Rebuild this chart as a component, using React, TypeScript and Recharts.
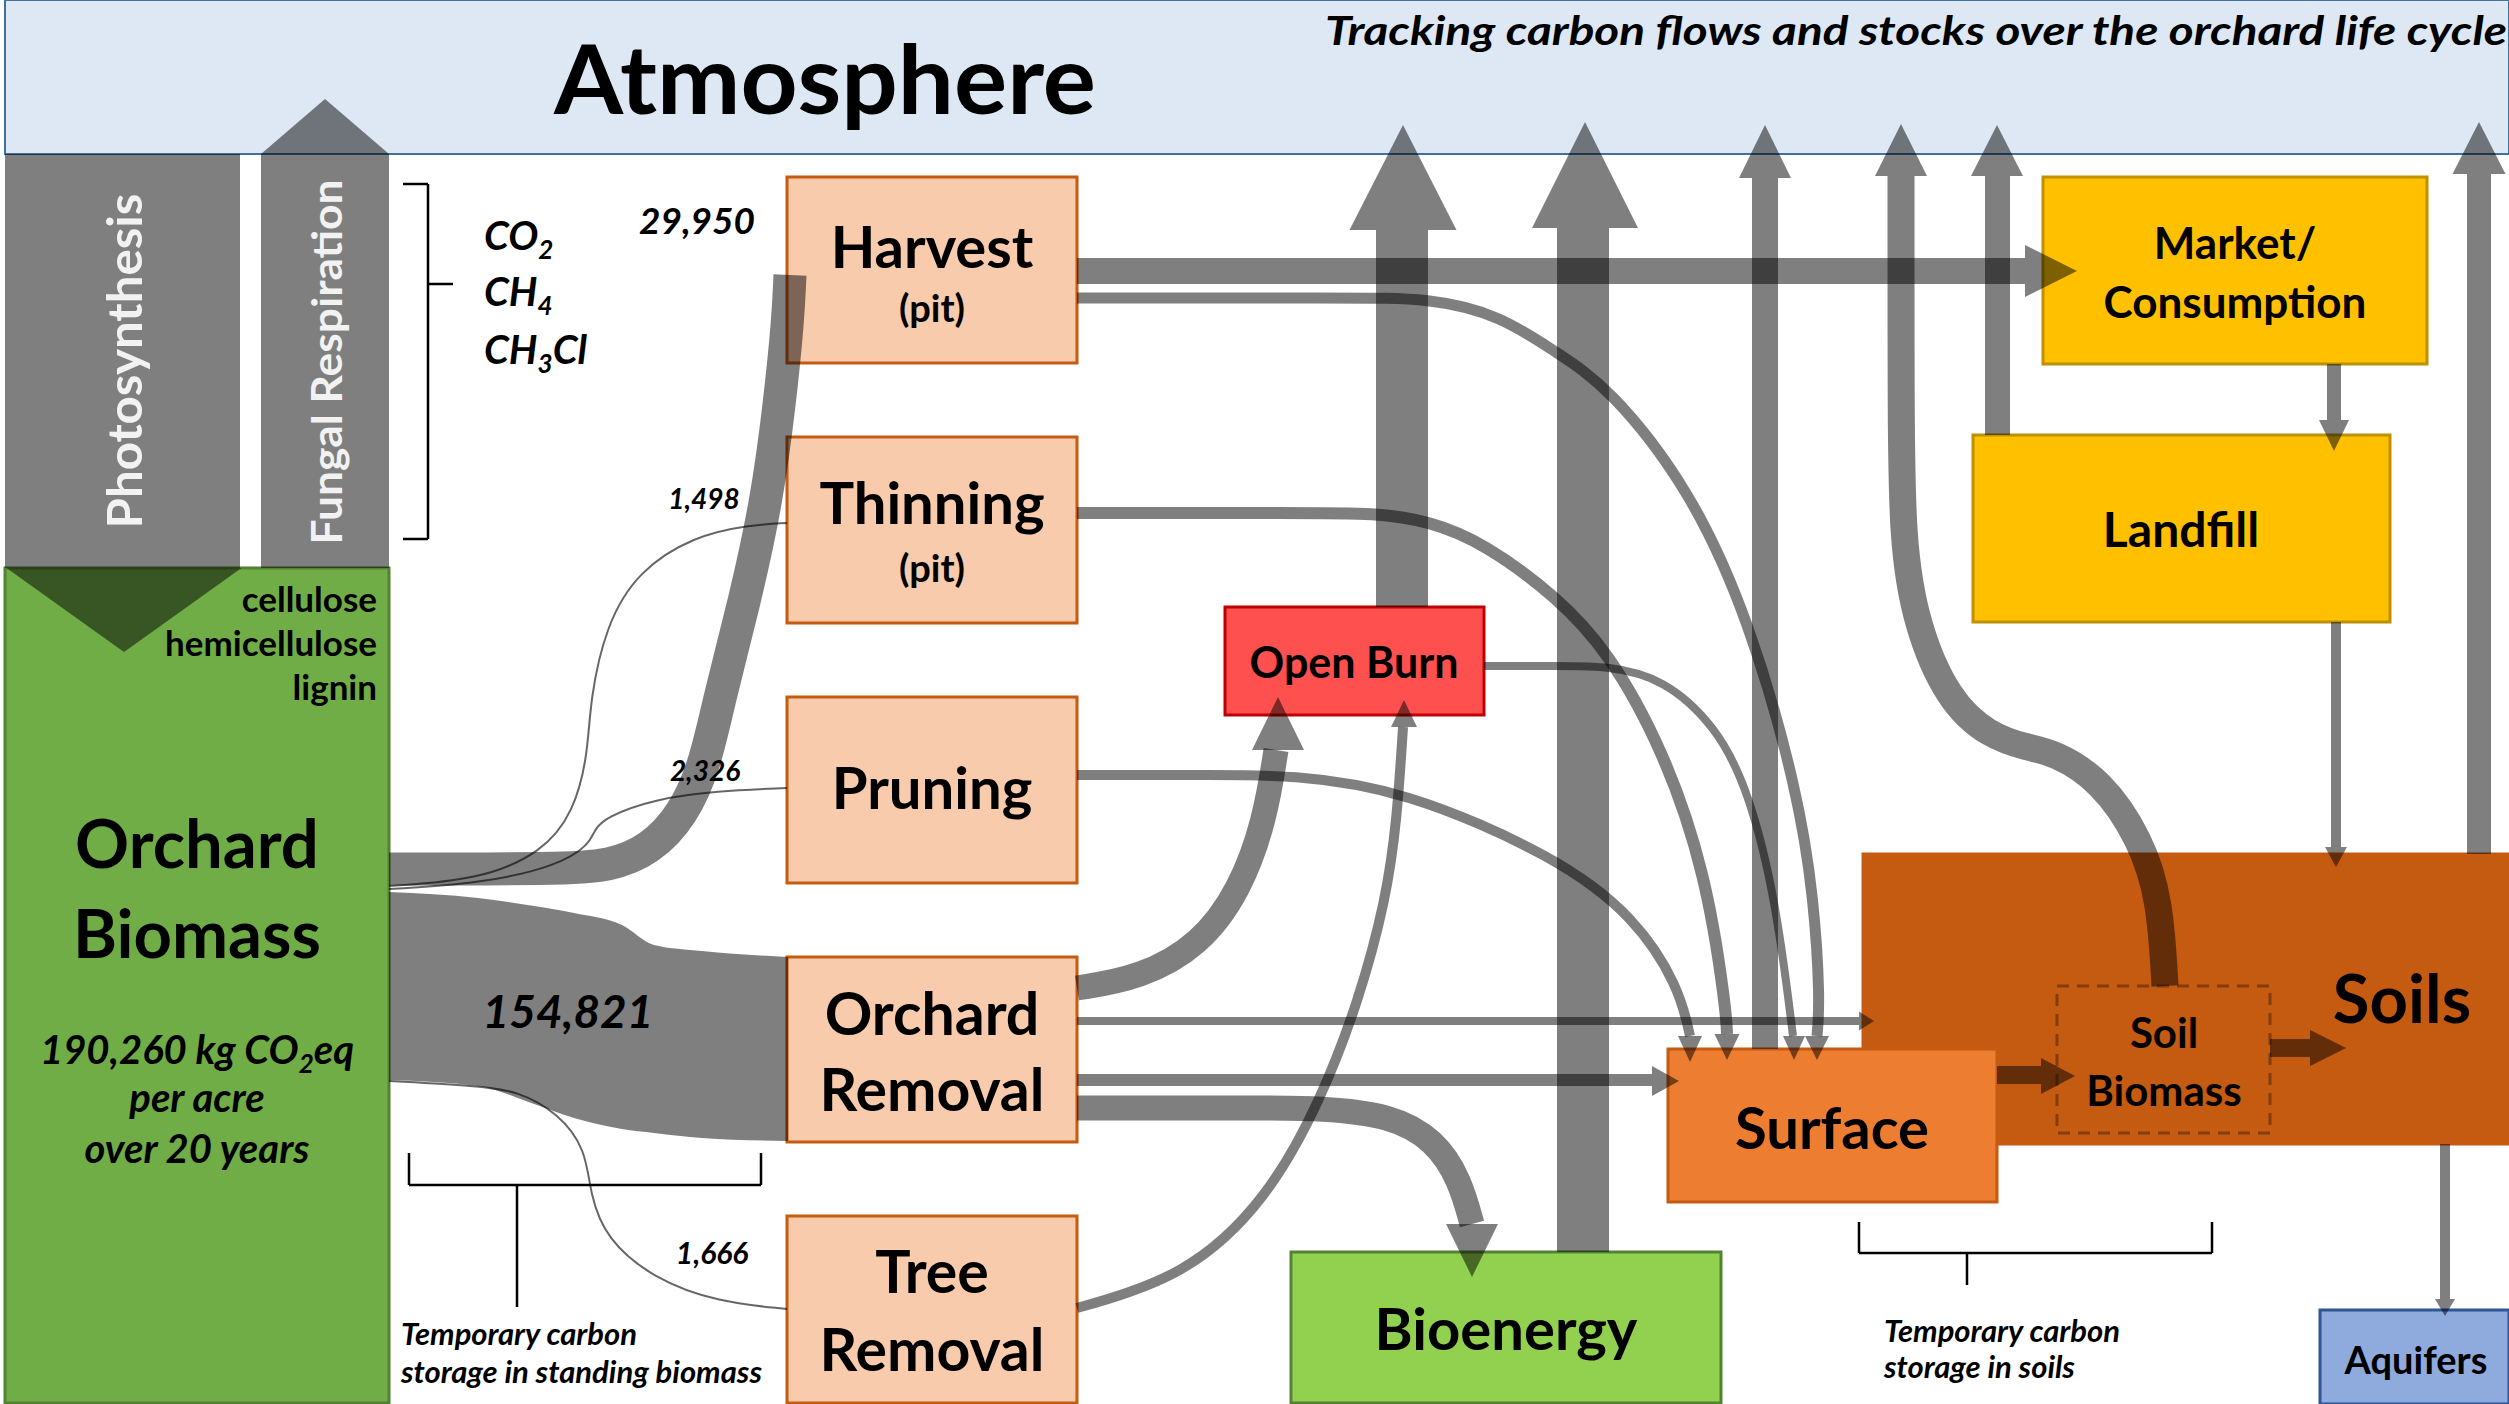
import { ComposedChart, XAxis, YAxis, Line, Area, Scatter, ReferenceArea, ReferenceLine } from 'recharts'

const W = 2509
const H = 1404
const SANS = 'Lato, "Open Sans", "Noto Sans", sans-serif'
const INK = '#000'
const FLOW_OPACITY = 0.5

// carbon stocks (boxes), drawn in the diagram's own x/y units
const stocks = [
  { id: 'Atmosphere', x1: 5, x2: 2509, y1: 0, y2: 154, fill: '#dde8f4', stroke: '#41719c' },
  { id: 'Orchard Biomass', x1: 5, x2: 389, y1: 568, y2: 1403, fill: '#70ad47', stroke: '#548235' },
  { id: 'Harvest', x1: 787, x2: 1077, y1: 177, y2: 363, fill: '#f8cbad', stroke: '#c55a11' },
  { id: 'Thinning', x1: 787, x2: 1077, y1: 437, y2: 623, fill: '#f8cbad', stroke: '#c55a11' },
  { id: 'Pruning', x1: 787, x2: 1077, y1: 697, y2: 883, fill: '#f8cbad', stroke: '#c55a11' },
  { id: 'Orchard Removal', x1: 787, x2: 1077, y1: 957, y2: 1142, fill: '#f8cbad', stroke: '#c55a11' },
  { id: 'Tree Removal', x1: 787, x2: 1077, y1: 1216, y2: 1403, fill: '#f8cbad', stroke: '#c55a11' },
  { id: 'Open Burn', x1: 1225, x2: 1484, y1: 607, y2: 715, fill: '#ff5050', stroke: '#c00000' },
  { id: 'Market', x1: 2043, x2: 2427, y1: 177, y2: 364, fill: '#ffc000', stroke: '#bf9000' },
  { id: 'Landfill', x1: 1973, x2: 2390, y1: 435, y2: 622, fill: '#ffc000', stroke: '#bf9000' },
  { id: 'Soils', x1: 1863, x2: 2509, y1: 854, y2: 1144, fill: '#c55a11', stroke: '#c55a11' },
  { id: 'Surface', x1: 1668, x2: 1997, y1: 1049, y2: 1202, fill: '#ed7d31', stroke: '#c55a11' },
  { id: 'Bioenergy', x1: 1291, x2: 1721, y1: 1252, y2: 1403, fill: '#92d050', stroke: '#548235' },
  { id: 'Aquifers', x1: 2320, x2: 2509, y1: 1310, y2: 1404, fill: '#8faadc', stroke: '#2f5597' },
]

const soilBiomass = { x1: 2057, x2: 2270, y1: 986, y2: 1133 }

// straight flow shafts: [x1, x2, y1, y2]
const straightFlows = [
  [5, 240, 154, 568], // photosynthesis
  [261, 389, 154, 568], // fungal respiration
  [1077, 2025, 258, 284], // harvest -> market
  [1376, 1428, 230, 607], // open burn -> atmosphere
  [1557, 1609, 228, 1252], // bioenergy -> atmosphere
  [1752, 1778, 178, 1049], // surface -> atmosphere
  [1985, 2010, 176, 435], // landfill -> atmosphere
  [2467, 2491, 174, 854], // soils -> atmosphere
  [2327, 2341, 364, 420], // market -> landfill
  [2331, 2341, 622, 847], // landfill -> soils
  [1077, 1859, 1017, 1025], // orchard removal -> soils
  [1077, 1652, 1074, 1086], // orchard removal -> surface
  [1997, 2041, 1066, 1084], // surface -> soil biomass
  [2270, 2310, 1039, 1057], // soil biomass -> soils
  [2440, 2450, 1144, 1299], // soils -> aquifers
]

// curved flows
const curvedFlows = [
  { id: 'biomass-harvest', w: 33, pts: [[389, 869], [560, 869], [610, 866], [650, 850], [683, 815], [705, 765], [719, 700], [745, 600], [767, 500], [780, 400], [788, 320], [790, 275]] },
  { id: 'biomass-thinning', w: 2, pts: [[389, 886], [478, 880], [542, 853], [574, 812], [588, 754], [590, 700], [606, 625], [638, 571], [694, 536], [749, 525], [787, 523]] },
  { id: 'biomass-pruning', w: 2, pts: [[389, 889], [478, 884], [558, 866], [590, 844], [594, 830], [606, 817], [654, 799], [717, 791], [787, 788]] },
  { id: 'biomass-tree', w: 2, pts: [[389, 1081], [478, 1086], [518, 1091], [558, 1113], [586, 1149], [590, 1194], [606, 1239], [654, 1279], [717, 1302], [787, 1309]] },
  { id: 'harvest-surface', w: 11, pts: [[1077, 298], [1350, 298], [1429, 298], [1500, 315], [1557, 353], [1608, 386], [1690, 489], [1749, 619], [1798, 792], [1814, 900], [1820, 1000], [1817, 1036]] },
  { id: 'thinning-surface', w: 12, pts: [[1077, 513], [1300, 513], [1375, 513], [1429, 521], [1484, 543], [1557, 597], [1608, 651], [1663, 749], [1706, 873], [1726, 1009], [1727, 1034]] },
  { id: 'pruning-surface', w: 10, pts: [[1077, 775], [1220, 775], [1289, 775], [1402, 789], [1557, 857], [1635, 917], [1679, 987], [1690, 1036]] },
  { id: 'burn-surface', w: 8, pts: [[1484, 666], [1560, 666], [1608, 666], [1663, 678], [1717, 727], [1749, 792], [1776, 900], [1793, 1036]] },
  { id: 'removal-burn', w: 25, pts: [[1077, 988], [1140, 978], [1200, 945], [1240, 890], [1265, 820], [1276, 750]] },
  { id: 'tree-burn', w: 10, pts: [[1077, 1308], [1185, 1277], [1267, 1200], [1321, 1100], [1359, 1000], [1386, 900], [1397, 820], [1403, 727]] },
  { id: 'removal-bioenergy', w: 25, pts: [[1077, 1108], [1260, 1108], [1321, 1108], [1390, 1115], [1435, 1140], [1460, 1180], [1472, 1224]] },
  { id: 'soil-atmosphere', w: 27, pts: [[2165, 986], [2160, 900], [2141, 840], [2101, 780], [2053, 752], [2029, 748], [1989, 736], [1948, 700], [1916, 625], [1902, 540], [1901, 400], [1901, 176]] },
]

// orchard removal band (154,821): [top, bottom] along x
const removalBand = [
  { x: 389, band: [892, 1080] },
  { x: 478, band: [898, 1086] },
  { x: 534, band: [906, 1104] },
  { x: 574, band: [913, 1118] },
  { x: 622, band: [925, 1129] },
  { x: 654, band: [945, 1133] },
  { x: 702, band: [951, 1138] },
  { x: 788, band: [957, 1141] },
]

// arrow heads: tip position, direction, base width, length
const heads = [
  { x: 124, y: 652, dir: 'down', w: 235, h: 84 },
  { x: 325, y: 99, dir: 'up', w: 128, h: 55 },
  { x: 2077, y: 271, dir: 'right', w: 52, h: 52 },
  { x: 1403, y: 125, dir: 'up', w: 107, h: 105 },
  { x: 1585, y: 122, dir: 'up', w: 106, h: 106 },
  { x: 1765, y: 125, dir: 'up', w: 52, h: 53 },
  { x: 1901, y: 124, dir: 'up', w: 52, h: 52 },
  { x: 1997, y: 125, dir: 'up', w: 52, h: 51 },
  { x: 2479, y: 122, dir: 'up', w: 53, h: 52 },
  { x: 2334, y: 451, dir: 'down', w: 30, h: 31 },
  { x: 2336, y: 867, dir: 'down', w: 22, h: 20 },
  { x: 1874, y: 1021, dir: 'right', w: 19, h: 15 },
  { x: 1679, y: 1081, dir: 'right', w: 30, h: 27 },
  { x: 2075, y: 1076, dir: 'right', w: 36, h: 34 },
  { x: 2346, y: 1048, dir: 'right', w: 36, h: 36 },
  { x: 2445, y: 1316, dir: 'down', w: 20, h: 17 },
  { x: 1690, y: 1062, dir: 'down', w: 24, h: 26 },
  { x: 1727, y: 1060, dir: 'down', w: 25, h: 26 },
  { x: 1794, y: 1060, dir: 'down', w: 22, h: 24 },
  { x: 1817, y: 1060, dir: 'down', w: 24, h: 24 },
  { x: 1278, y: 697, dir: 'up', w: 52, h: 53 },
  { x: 1404, y: 700, dir: 'up', w: 26, h: 27 },
  { x: 1472, y: 1277, dir: 'down', w: 52, h: 53 },
]

// bracket strokes: [x1, y1, x2, y2]
const brackets = [
  [403, 184, 428, 184], [428, 184, 428, 539], [403, 539, 428, 539], [428, 284, 453, 284],
  [409, 1153, 409, 1185], [409, 1185, 761, 1185], [761, 1153, 761, 1185], [517, 1185, 517, 1307],
  [1859, 1222, 1859, 1253], [1859, 1253, 2212, 1253], [2212, 1222, 2212, 1253], [1967, 1253, 1967, 1285],
]

// text, {..} marks a subscript
const labels: any[] = [
  { x: 825, y: 114, t: 'Atmosphere', size: 96, len: 542 },
  { x: 1916, y: 45, t: 'Tracking carbon flows and stocks over the orchard life cycle', size: 40, italic: true, len: 1182 },
  { x: 142, y: 361, t: 'Photosynthesis', size: 48, rotate: -90, color: '#f2f2f2', len: 335 },
  { x: 342, y: 362, t: 'Fungal Respiration', size: 42, rotate: -90, color: '#f2f2f2', len: 365 },
  { x: 484, y: 250, t: 'CO{2}', size: 40, italic: true, anchor: 'start' },
  { x: 484, y: 306, t: 'CH{4}', size: 40, italic: true, anchor: 'start' },
  { x: 484, y: 364, t: 'CH{3}Cl', size: 40, italic: true, anchor: 'start' },
  { x: 697, y: 234, t: '29,950', size: 37, italic: true },
  { x: 704, y: 509, t: '1,498', size: 28, italic: true },
  { x: 705, y: 781, t: '2,326', size: 28, italic: true },
  { x: 568, y: 1028, t: '154,821', size: 46, italic: true },
  { x: 712, y: 1264, t: '1,666', size: 30, italic: true },
  { x: 932, y: 268, t: 'Harvest', size: 58 },
  { x: 932, y: 322, t: '(pit)', size: 38 },
  { x: 932, y: 524, t: 'Thinning', size: 58 },
  { x: 932, y: 582, t: '(pit)', size: 38 },
  { x: 932, y: 809, t: 'Pruning', size: 58 },
  { x: 932, y: 1035, t: 'Orchard', size: 59 },
  { x: 932, y: 1111, t: 'Removal', size: 59 },
  { x: 932, y: 1293, t: 'Tree', size: 59 },
  { x: 932, y: 1371, t: 'Removal', size: 59 },
  { x: 377, y: 612, t: 'cellulose', size: 35, anchor: 'end' },
  { x: 377, y: 656, t: 'hemicellulose', size: 35, anchor: 'end' },
  { x: 377, y: 700, t: 'lignin', size: 35, anchor: 'end' },
  { x: 197, y: 868, t: 'Orchard', size: 67 },
  { x: 197, y: 958, t: 'Biomass', size: 67 },
  { x: 197, y: 1064, t: '190,260 kg CO{2}eq', size: 40, italic: true },
  { x: 197, y: 1112, t: 'per acre', size: 40, italic: true },
  { x: 197, y: 1163, t: 'over 20 years', size: 40, italic: true },
  { x: 401, y: 1345, t: 'Temporary carbon', size: 31, italic: true, anchor: 'start' },
  { x: 401, y: 1383, t: 'storage in standing biomass', size: 31, italic: true, anchor: 'start' },
  { x: 1354, y: 678, t: 'Open Burn', size: 43 },
  { x: 2235, y: 259, t: 'Market/', size: 44 },
  { x: 2235, y: 318, t: 'Consumption', size: 44 },
  { x: 2181, y: 547, t: 'Landfill', size: 48 },
  { x: 1832, y: 1149, t: 'Surface', size: 58 },
  { x: 2164, y: 1048, t: 'Soil', size: 42 },
  { x: 2164, y: 1106, t: 'Biomass', size: 42 },
  { x: 2402, y: 1023, t: 'Soils', size: 67 },
  { x: 1506, y: 1350, t: 'Bioenergy', size: 58 },
  { x: 2416, y: 1374, t: 'Aquifers', size: 38 },
  { x: 1884, y: 1342, t: 'Temporary carbon', size: 31, italic: true, anchor: 'start' },
  { x: 1884, y: 1378, t: 'storage in soils', size: 31, italic: true, anchor: 'start' },
]

function RichText({ text, size }: { text: string; size: number }) {
  const parts = text.split(/(\{[^}]*\})/).filter(Boolean)
  let shift = 0
  return (
    <>
      {parts.map((p, i) => {
        const sub = p.startsWith('{')
        const target = sub ? size * 0.22 : 0
        const dy = target - shift
        shift = target
        return (
          <tspan key={i} dy={dy || undefined} fontSize={sub ? size * 0.65 : undefined}>
            {sub ? p.slice(1, -1) : p}
          </tspan>
        )
      })}
    </>
  )
}

const renderLabel = (props: any) => {
  const { cx, cy, payload: l } = props
  return (
    <text
      x={cx}
      y={cy}
      fontFamily={SANS}
      fontSize={l.size}
      fontWeight={700}
      fontStyle={l.italic ? 'italic' : 'normal'}
      textAnchor={l.anchor ?? 'middle'}
      fill={l.color ?? '#000'}
      transform={l.rotate ? `rotate(${l.rotate} ${cx} ${cy})` : undefined}
      textLength={l.len}
      lengthAdjust={l.len ? 'spacingAndGlyphs' : undefined}
    >
      <RichText text={l.t} size={l.size} />
    </text>
  )
}

const renderHead = (props: any) => {
  const { cx, cy, payload: a } = props
  const hw = a.w / 2
  const pts =
    a.dir === 'up'
      ? [[cx, cy], [cx + hw, cy + a.h], [cx - hw, cy + a.h]]
      : a.dir === 'down'
        ? [[cx, cy], [cx + hw, cy - a.h], [cx - hw, cy - a.h]]
        : [[cx, cy], [cx - a.h, cy - hw], [cx - a.h, cy + hw]]
  return <polygon points={pts.map((p) => p.join(',')).join(' ')} fill={INK} fillOpacity={FLOW_OPACITY} />
}

export default function App() {
  return (
    <div style={{ position: 'absolute', left: 0, top: 0, background: '#fff' }}>
      <ComposedChart width={W} height={H} margin={{ top: 0, right: 0, bottom: 0, left: 0 }}>
        <XAxis type="number" dataKey="x" domain={[0, W]} allowDataOverflow hide />
        <YAxis type="number" dataKey="y" domain={[0, H]} allowDataOverflow reversed hide />

        {stocks.map((s) => (
          <ReferenceArea
            key={s.id}
            x1={s.x1}
            x2={s.x2}
            y1={s.y1}
            y2={s.y2}
            fill={s.fill}
            fillOpacity={1}
            stroke={s.stroke}
            strokeWidth={s.id === 'Atmosphere' ? 2 : 3}
            ifOverflow="visible"
            zIndex={10}
          />
        ))}
        <ReferenceArea
          x1={soilBiomass.x1}
          x2={soilBiomass.x2}
          y1={soilBiomass.y1}
          y2={soilBiomass.y2}
          fill="none"
          fillOpacity={0}
          stroke="#843c0c"
          strokeWidth={3}
          strokeDasharray="12 8"
          ifOverflow="visible"
          zIndex={11}
        />

        {straightFlows.map(([x1, x2, y1, y2], i) => (
          <ReferenceArea
            key={`s${i}`}
            x1={x1}
            x2={x2}
            y1={y1}
            y2={y2}
            fill={INK}
            fillOpacity={FLOW_OPACITY}
            stroke="none"
            ifOverflow="visible"
            zIndex={20}
          />
        ))}

        <Area
          data={removalBand}
          dataKey="band"
          type="monotone"
          stroke="none"
          fill={INK}
          fillOpacity={FLOW_OPACITY}
          dot={false}
          activeDot={false}
          isAnimationActive={false}
          zIndex={30}
        />

        {curvedFlows.map((f) => (
          <Line
            key={f.id}
            data={f.pts.map(([x, y]) => ({ x, y }))}
            dataKey="y"
            type="basis"
            stroke={INK}
            strokeOpacity={f.w <= 2 ? 0.6 : FLOW_OPACITY}
            strokeWidth={f.w}
            dot={false}
            activeDot={false}
            isAnimationActive={false}
            zIndex={40}
          />
        ))}

        <Scatter data={heads} dataKey="y" shape={renderHead} isAnimationActive={false} zIndex={50} />

        {brackets.map(([x1, y1, x2, y2], i) => (
          <ReferenceLine
            key={`b${i}`}
            segment={[{ x: x1, y: y1 }, { x: x2, y: y2 }]}
            stroke="#000"
            strokeWidth={2.5}
            ifOverflow="visible"
            zIndex={60}
          />
        ))}

        <Scatter data={labels} dataKey="y" shape={renderLabel} isAnimationActive={false} zIndex={70} />
      </ComposedChart>
    </div>
  )
}
